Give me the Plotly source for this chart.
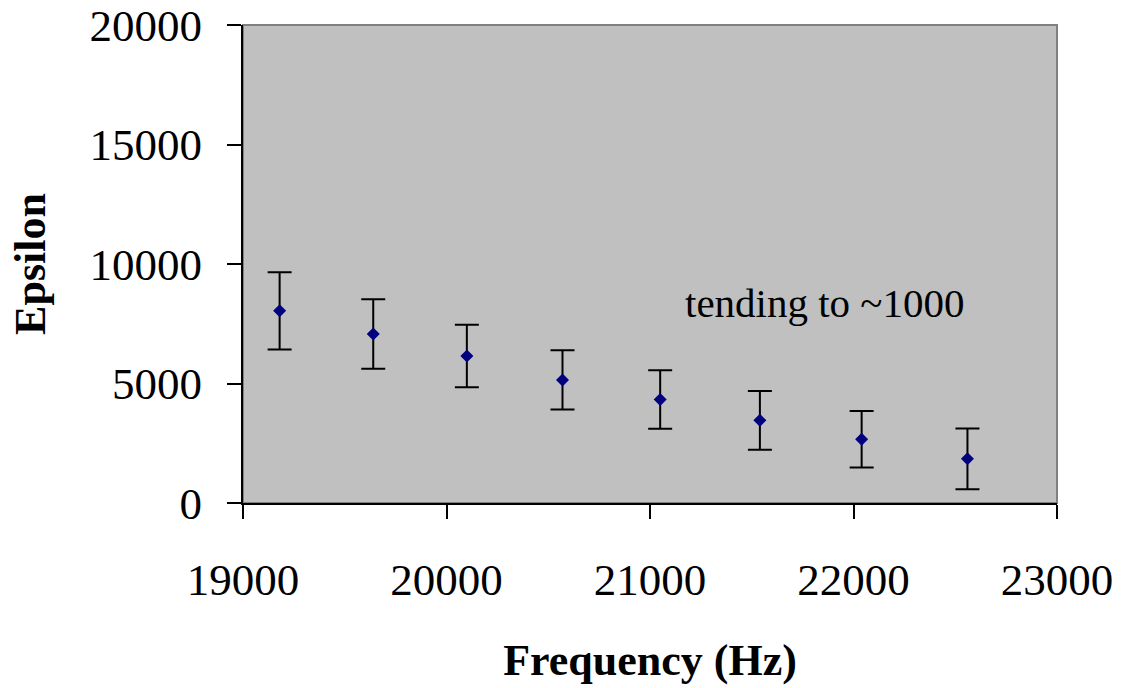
import plotly.graph_objects as go

freq = [19180, 19640, 20100, 20570, 21050, 21540, 22040, 22560]
epsilon = [8040, 7070, 6150, 5150, 4330, 3460, 2670, 1850]
err = [1620, 1450, 1310, 1240, 1220, 1230, 1180, 1270]

x_ticks = [19000, 20000, 21000, 22000, 23000]
y_ticks = [0, 5000, 10000, 15000, 20000]

FONT = "Liberation Serif, Times New Roman, serif"

fig = go.Figure()
fig.add_trace(go.Scatter(
    x=freq, y=epsilon, mode="markers",
    marker=dict(symbol="diamond", size=10, color="#000080"),
    error_y=dict(type="data", array=err, visible=True, color="black", thickness=2, width=12),
    showlegend=False,
))

fig.add_shape(type="rect", xref="paper", yref="paper", x0=0, y0=0, x1=1, y1=1,
              line=dict(color="#808080", width=2), layer="below")

fig.add_annotation(x=21860, y=8350, xref="x", yref="y", text="tending to ~1000",
                   showarrow=False, font=dict(family=FONT, size=41, color="black"))

fig.update_layout(
    width=1125, height=688,
    margin=dict(l=243, r=68, t=25, b=185),
    paper_bgcolor="white", plot_bgcolor="#C0C0C0",
    font=dict(family=FONT, size=45, color="black"),
)
fig.update_xaxes(
    range=[19000, 23000], tickvals=x_ticks, ticktext=[str(v) for v in x_ticks],
    showgrid=False, zeroline=False, showline=True, linecolor="black", linewidth=2,
    ticks="outside", ticklen=14, tickwidth=1.5, tickcolor="black",
    ticklabelstandoff=22, automargin=False,
    title=dict(text="<b>Frequency (Hz)</b>", standoff=40, font=dict(size=44)),
)
fig.update_yaxes(
    range=[0, 20000], tickvals=y_ticks, ticktext=[str(v) for v in y_ticks],
    showgrid=False, zeroline=False, showline=True, linecolor="black", linewidth=2,
    ticks="outside", ticklen=14, tickwidth=1.5, tickcolor="black",
    ticklabelstandoff=16, automargin=False,
    title=dict(text="<b>Epsilon</b>", standoff=30, font=dict(size=44)),
)

fig.write_html("out.html")
